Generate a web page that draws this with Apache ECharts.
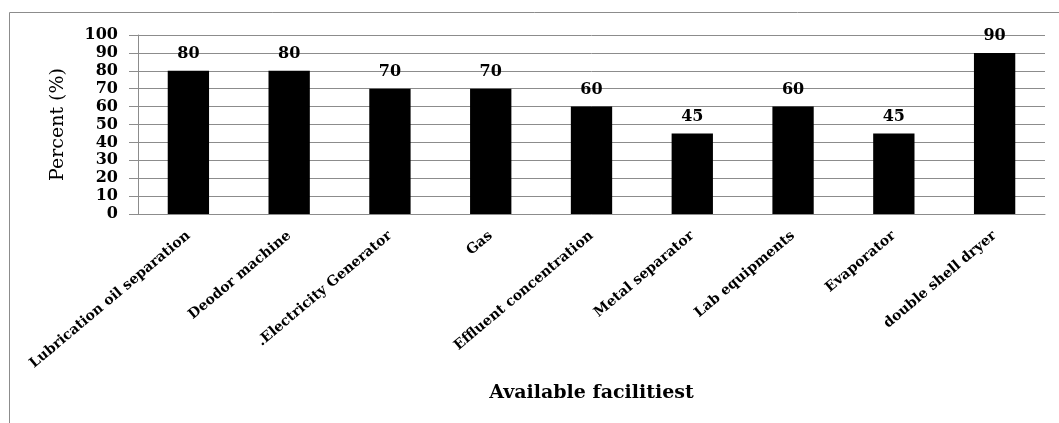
<!DOCTYPE html>
<html><head><meta charset="utf-8">
<script src="https://cdn.jsdelivr.net/npm/echarts@6/dist/echarts.min.js"></script>
<style>html,body{margin:0;padding:0;background:#fff}#c{width:1059px;height:423px}</style>
</head><body><div id="c"></div>
<script>
const categories = ["Lubrication oil separation","Deodor machine",".Electricity Generator","Gas","Effluent concentration","Metal separator","Lab equipments","Evaporator","double shell dryer"];
const values = [80,80,70,70,60,45,60,45,90];
const yTicks = [0,10,20,30,40,50,60,70,80,90,100];
const serif = '"DejaVu Serif","Liberation Serif",serif';
const chart = echarts.init(document.getElementById('c'));
chart.setOption({
  animation:false,
  backgroundColor:'#fff',
  graphic:[{type:'rect',shape:{x:9.5,y:12.5,width:1100,height:500},style:{fill:'none',stroke:'#8c8c8c',lineWidth:1},silent:true}],
  grid:{left:138,right:14,top:35,bottom:209},
  xAxis:{type:'category',data:categories,
    name:'Available facilitiest',nameLocation:'middle',nameGap:170,
    nameTextStyle:{fontFamily:serif,fontWeight:'bold',fontSize:19,color:'#000'},
    axisLine:{lineStyle:{color:'#8c8c8c'}},axisTick:{show:false},
    axisLabel:{rotate:40,interval:0,margin:20,fontFamily:serif,fontWeight:'bold',fontSize:14,color:'#000'}},
  yAxis:{type:'value',min:yTicks[0],max:yTicks[yTicks.length-1],interval:10,
    name:'Percent (%)',nameLocation:'middle',nameGap:70,
    nameTextStyle:{fontFamily:serif,fontSize:19,color:'#000'},
    axisLine:{show:true,lineStyle:{color:'#8c8c8c'}},
    axisTick:{show:true,length:9,lineStyle:{color:'#8c8c8c'}},
    splitLine:{lineStyle:{color:'#8c8c8c'}},
    axisLabel:{margin:20,fontFamily:serif,fontWeight:'bold',fontSize:16,color:'#000',lineHeight:16}},
  series:[{type:'bar',data:values,barWidth:'41%',itemStyle:{color:'#000'},
    label:{show:true,position:'top',distance:9,fontFamily:serif,fontWeight:'bold',fontSize:16,color:'#000'}}]
});
</script></body></html>
